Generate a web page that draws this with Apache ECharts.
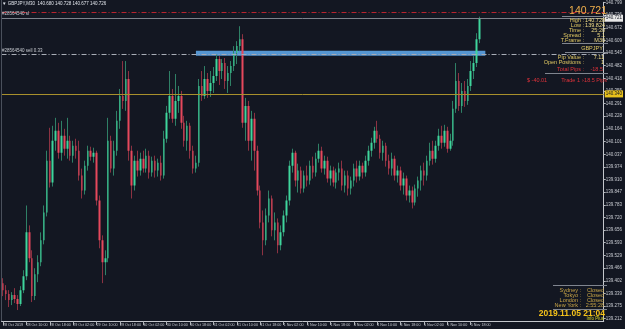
<!DOCTYPE html>
<html>
<head>
<meta charset="utf-8">
<script src="https://cdn.jsdelivr.net/npm/echarts@6/dist/echarts.min.js"></script>
<style>
  html, body { margin: 0; padding: 0; background: #131722; }
  #chart { width: 625px; height: 329px; }
</style>
</head>
<body>
<div id="chart"></div>
<script>
// GBPJPY hourly candles, 28 Oct 02:00 .. 5 Nov 21:00 — [open, close, low, high]
const candles = [
  [139.390, 139.355, 139.325, 139.415], [139.355, 139.335, 139.305, 139.380], [139.335, 139.305, 139.270, 139.355],
  [139.305, 139.330, 139.280, 139.345], [139.330, 139.310, 139.290, 139.365], [139.310, 139.285, 139.255, 139.330],
  [139.285, 139.355, 139.275, 139.375], [139.355, 139.425, 139.340, 139.455], [139.425, 139.645, 139.405, 139.780],
  [139.645, 139.515, 139.495, 139.680], [139.515, 139.325, 139.295, 139.555], [139.325, 139.435, 139.305, 139.465],
  [139.435, 139.495, 139.395, 139.530], [139.495, 139.605, 139.475, 139.645], [139.605, 139.745, 139.585, 139.780],
  [139.745, 140.005, 139.725, 140.055], [140.005, 139.895, 139.870, 140.170], [139.895, 140.105, 139.875, 140.180],
  [140.105, 140.155, 140.055, 140.220], [140.155, 140.045, 140.015, 140.195], [140.045, 140.130, 140.005, 140.205],
  [140.130, 140.065, 140.030, 140.165], [140.065, 140.105, 140.015, 140.220], [140.105, 140.030, 140.005, 140.130],
  [140.030, 140.080, 139.995, 140.105], [140.080, 140.055, 140.015, 140.115], [140.055, 139.930, 139.905, 140.105],
  [139.930, 139.855, 139.815, 139.965], [139.855, 139.980, 139.835, 140.005], [139.980, 140.055, 139.955, 140.080],
  [140.055, 140.025, 140.005, 140.075], [140.025, 140.045, 139.995, 140.070], [140.045, 139.805, 139.780, 140.055],
  [139.805, 139.605, 139.565, 139.830], [139.605, 139.495, 139.390, 139.630], [139.495, 139.515, 139.430, 139.555],
  [139.515, 140.105, 139.495, 140.220], [140.105, 139.965, 139.945, 140.130], [139.965, 140.055, 139.930, 140.105],
  [140.055, 140.205, 140.030, 140.255], [140.205, 140.330, 140.165, 140.365], [140.330, 140.305, 140.265, 140.505],
  [140.305, 140.415, 140.255, 140.505], [140.415, 140.055, 140.005, 140.455], [140.055, 139.880, 139.815, 140.080],
  [139.880, 140.005, 139.855, 140.030], [140.005, 139.955, 139.925, 140.055], [139.955, 140.015, 139.930, 140.045],
  [140.015, 139.965, 139.945, 140.055], [139.965, 140.030, 139.945, 140.065], [140.030, 139.945, 139.915, 140.055],
  [139.945, 140.005, 139.925, 140.025], [140.005, 139.955, 139.920, 140.030], [139.955, 139.995, 139.925, 140.015],
  [139.995, 139.930, 139.905, 140.030], [139.930, 140.115, 139.915, 140.155], [140.115, 140.245, 140.095, 140.280],
  [140.245, 140.330, 140.215, 140.455], [140.330, 140.215, 140.195, 140.365], [140.215, 140.305, 140.180, 140.440],
  [140.305, 140.330, 140.245, 140.380], [140.330, 140.195, 140.165, 140.355], [140.195, 140.105, 140.075, 140.230],
  [140.105, 140.180, 140.055, 140.205], [140.180, 140.055, 140.015, 140.195], [140.055, 139.965, 139.940, 140.080],
  [139.965, 139.995, 139.945, 140.030], [139.995, 140.380, 139.975, 140.415], [140.380, 140.330, 140.305, 140.455],
  [140.330, 140.415, 140.315, 140.480], [140.415, 140.355, 140.320, 140.445], [140.355, 140.395, 140.325, 140.455],
  [140.395, 140.430, 140.345, 140.475], [140.430, 140.515, 140.405, 140.540], [140.515, 140.455, 140.385, 140.530],
  [140.455, 140.495, 140.415, 140.515], [140.495, 140.405, 140.365, 140.520], [140.405, 140.445, 140.345, 140.480],
  [140.445, 140.480, 140.380, 140.505], [140.480, 140.545, 140.455, 140.580], [140.545, 140.580, 140.490, 140.605],
  [140.580, 140.615, 140.555, 140.680], [140.615, 140.195, 140.170, 140.640], [140.195, 140.280, 140.105, 140.320],
  [140.280, 140.105, 140.055, 140.305], [140.105, 140.215, 140.005, 140.255], [140.215, 140.055, 139.955, 140.245],
  [140.055, 139.855, 139.830, 140.080], [139.855, 139.695, 139.665, 139.880], [139.695, 139.605, 139.530, 139.755],
  [139.605, 139.730, 139.580, 139.765], [139.730, 139.815, 139.695, 139.855], [139.815, 139.655, 139.625, 139.830],
  [139.655, 139.695, 139.605, 139.745], [139.695, 139.580, 139.540, 139.715], [139.580, 139.645, 139.555, 139.680],
  [139.645, 139.730, 139.625, 139.755], [139.730, 139.805, 139.695, 139.830], [139.805, 139.980, 139.780, 140.005],
  [139.980, 140.045, 139.945, 140.065], [140.045, 139.905, 139.875, 140.055], [139.905, 139.955, 139.845, 139.990],
  [139.955, 139.865, 139.840, 139.975], [139.865, 139.930, 139.845, 139.955], [139.930, 139.905, 139.875, 139.980],
  [139.905, 139.980, 139.885, 140.005], [139.980, 139.945, 139.915, 140.025], [139.945, 140.015, 139.925, 140.045],
  [140.015, 140.055, 139.995, 140.090], [140.055, 139.965, 139.945, 140.075], [139.965, 140.005, 139.935, 140.030],
  [140.005, 139.915, 139.895, 140.025], [139.915, 139.955, 139.880, 139.980], [139.955, 139.895, 139.875, 139.975],
  [139.895, 139.945, 139.865, 139.965], [139.945, 139.965, 139.905, 139.995], [139.965, 139.880, 139.855, 140.005],
  [139.880, 139.930, 139.845, 139.955], [139.930, 139.865, 139.830, 139.955], [139.865, 139.905, 139.835, 139.925],
  [139.905, 139.965, 139.875, 139.990], [139.965, 139.925, 139.895, 140.005], [139.925, 139.980, 139.905, 140.005],
  [139.980, 139.945, 139.915, 139.995], [139.945, 140.005, 139.925, 140.030], [140.005, 140.055, 139.980, 140.080],
  [140.055, 140.095, 140.025, 140.120], [140.095, 140.155, 140.065, 140.175], [140.155, 140.115, 140.095, 140.205],
  [140.115, 140.045, 140.015, 140.135], [140.045, 140.080, 140.005, 140.105], [140.080, 140.005, 139.975, 140.095],
  [140.005, 139.965, 139.935, 140.035], [139.965, 140.015, 139.930, 140.045], [140.015, 139.930, 139.905, 140.030],
  [139.930, 139.955, 139.895, 139.980], [139.955, 139.880, 139.855, 139.975], [139.880, 139.915, 139.835, 139.945],
  [139.915, 139.830, 139.805, 139.930], [139.830, 139.855, 139.795, 139.880], [139.855, 139.795, 139.765, 139.875],
  [139.795, 139.865, 139.780, 139.885], [139.865, 139.905, 139.824, 139.925], [139.905, 139.955, 139.855, 139.980],
  [139.955, 139.930, 139.880, 139.995], [139.930, 140.005, 139.905, 140.030], [140.005, 140.055, 139.980, 140.095],
  [140.055, 140.015, 139.985, 140.105], [140.015, 140.080, 139.995, 140.105], [140.080, 140.130, 140.055, 140.165],
  [140.130, 140.095, 140.065, 140.180], [140.095, 140.155, 140.075, 140.185], [140.155, 140.065, 140.045, 140.175],
  [140.065, 140.105, 140.055, 140.140], [140.105, 140.265, 140.080, 140.305], [140.265, 140.405, 140.245, 140.495],
  [140.405, 140.280, 140.255, 140.445], [140.280, 140.355, 140.245, 140.395], [140.355, 140.305, 140.275, 140.405],
  [140.305, 140.380, 140.285, 140.415], [140.380, 140.455, 140.355, 140.505], [140.455, 140.495, 140.415, 140.530],
  [140.495, 140.615, 140.475, 140.645], [140.615, 140.721, 140.595, 140.728]
]

// time axis labels, one every 8 bars
const timeLabels = [
  '28 Oct 2019', '28 Oct 10:00', '28 Oct 18:00', '29 Oct 02:00', '29 Oct 10:00', '29 Oct 18:00',
  '30 Oct 02:00', '30 Oct 10:00', '30 Oct 18:00', '31 Oct 02:00', '31 Oct 10:00', '31 Oct 18:00',
  '1 Nov 02:00', '1 Nov 10:00', '1 Nov 18:00', '4 Nov 02:00', '4 Nov 10:00', '4 Nov 18:00',
  '5 Nov 02:00', '5 Nov 10:00', '5 Nov 18:00'
]

// price scale labels
const priceTicks = [
  140.799, 140.736, 140.672, 140.609, 140.545, 140.482, 140.418, 140.355, 140.291, 140.228,
  140.164, 140.101, 140.037, 139.974, 139.910, 139.847, 139.783, 139.720, 139.656, 139.593,
  139.529, 139.466, 139.402, 139.339, 139.275, 139.212
]

// horizontal levels
const bidPrice = 140.721
const slPrice = 140.751
const orderPrice = 140.536
const levelPrice = 140.340
const zoneTop = 140.557
const zoneBottom = 140.532
const zoneFrom = 66
const zoneTo = 165

// chart window holds empty space to the right of the last bar
const slotCount = 206
const slots = Array.from({ length: slotCount }, (_, i) => String(i))

const font = 'Liberation Sans, Arial, sans-serif'
const chart = echarts.init(document.getElementById('chart'))

function txt(x, y, text, fill, size, align, weight) {
  const a = align || 'left'
  return {
    type: 'text', z: 100,
    style: {
      x, y, text, fill,
      textAlign: a, align: a,
      textVerticalAlign: 'middle', verticalAlign: 'middle',
      font: `${weight || 'normal'} ${size || 5.5}px ${font}`,
    },
  }
}
function hline(x1, x2, y, color) {
  return { type: 'line', z: 100, shape: { x1, y1: y + 0.5, x2, y2: y + 0.5 }, style: { stroke: color || '#80858f', lineWidth: 1 } }
}

const labelCol = '#e0c862'
const valueCol = '#f0dc86'
const redCol = '#e0323a'
const sessCol = '#c9a546'

chart.setOption({
  backgroundColor: '#131722',
  animation: false,
  grid: { left: 1, right: 17, top: 1, bottom: 8 },
  xAxis: {
    type: 'category',
    data: slots,
    boundaryGap: true,
    axisLine: { show: true, lineStyle: { color: '#c4c7cc' } },
    axisTick: {
      show: true, length: 4, alignWithLabel: true,
      interval: (i) => i % 8 === 0 && i / 8 < timeLabels.length,
      lineStyle: { color: '#b0b4ba' },
    },
    axisLabel: {
      interval: (i) => i % 8 === 0 && i / 8 < timeLabels.length,
      formatter: (v, i) => timeLabels[i / 8] || '',
      color: '#c9ccd2', fontSize: 3.7, fontFamily: font, align: 'left', margin: 2,
    },
    splitLine: { show: false },
  },
  yAxis: {
    type: 'value',
    position: 'right',
    min: 139.2,
    max: 140.8,
    scale: true,
    axisLine: { show: true, lineStyle: { color: '#c4c7cc' } },
    axisTick: { show: true, length: 2, customValues: priceTicks, lineStyle: { color: '#b0b4ba' } },
    axisLabel: {
      customValues: priceTicks,
      formatter: (v) => v.toFixed(3),
      color: '#c9ccd2', fontSize: 4.5, fontFamily: font, margin: 2,
    },
    splitLine: { show: false },
  },
  series: [
    {
      // wicks
      type: 'candlestick',
      data: candles,
      barWidth: 1,
      itemStyle: { color: '#2f8066', color0: '#8c3242', borderColor: '#2f8066', borderColor0: '#8c3242', borderWidth: 1 },
      markArea: {
        silent: true,
        itemStyle: { color: '#5596d2' },
        data: [[{ xAxis: zoneFrom, yAxis: zoneTop }, { xAxis: zoneTo, yAxis: zoneBottom }]],
      },
      markLine: {
        silent: true,
        symbol: ['none', 'none'],
        data: [
          { yAxis: slPrice, lineStyle: { color: '#b8242f', type: [5, 2, 1, 2], width: 1 }, label: { show: false } },
          { yAxis: orderPrice, lineStyle: { color: '#a9adb6', type: [5, 2, 1, 2], width: 1 }, label: { show: false } },
          {
            yAxis: levelPrice, lineStyle: { color: '#a8902c', type: 'solid', width: 1 },
            label: { show: true, position: 'end', distance: 1, formatter: levelPrice.toFixed(3), backgroundColor: '#e8c21c', color: '#131722', fontSize: 4.5, fontFamily: font, padding: [1, 1] },
          },
          {
            yAxis: bidPrice, lineStyle: { color: '#7d828c', type: 'solid', width: 1 },
            label: { show: true, position: 'end', distance: 1, formatter: bidPrice.toFixed(3), backgroundColor: '#e8e8e8', color: '#131722', fontSize: 4.5, fontFamily: font, padding: [1, 1] },
          },
        ],
      },
    },
    {
      // bodies
      type: 'candlestick',
      data: candles,
      barWidth: 2,
      itemStyle: { color: '#3fd59c', color0: '#e6485c', borderColor: '#3fd59c', borderColor0: '#e6485c', borderWidth: 0 },
    },
  ],
  graphic: [
    { type: 'line', z: 100, shape: { x1: 1.5, y1: 0, x2: 1.5, y2: 321 }, style: { stroke: '#4a505c', lineWidth: 1 } },
    txt(2, 4, '\u25BC GBPJPY,M30  140.680 140.728 140.677 140.726', '#dfe3ea', 4.5),
    txt(2, 14, '#28564540 sl', '#c9ccd2', 4.5),
    txt(2, 51, '#28564540 sell 0.33', '#c9ccd2', 4.5),

    txt(607, 11, '140.721', '#f0b04c', 10.5, 'right'),
    hline(562, 608, 16),
    txt(584, 20, 'High :', labelCol, 5.5, 'right'), txt(605, 20, '140.728', valueCol, 5.5, 'right'),
    txt(584, 25, 'Low :', labelCol, 5.5, 'right'), txt(605, 25, '139.824', valueCol, 5.5, 'right'),
    txt(584, 30, 'Time :', labelCol, 5.5, 'right'), txt(605, 30, '25:20', valueCol, 5.5, 'right'),
    txt(584, 35, 'Spread :', labelCol, 5.5, 'right'), txt(605, 35, '5.1', valueCol, 5.5, 'right'),
    txt(584, 40, 'T.Frame :', labelCol, 5.5, 'right'), txt(605, 40, 'M30', valueCol, 5.5, 'right'),
    hline(562, 608, 43),
    txt(592, 48, 'GBPJPY', labelCol, 5.5, 'center'),
    hline(565, 608, 52),
    txt(584, 57, 'Pip Value :', labelCol, 5.5, 'right'), txt(604, 57, '7.11', valueCol, 5.5, 'right'),
    txt(584, 62, 'Open Positions :', labelCol, 5.5, 'right'), txt(604, 62, '1', valueCol, 5.5, 'right'),
    txt(584, 69, 'Total Pips :', redCol, 5.5, 'right'), txt(603, 69, '-18.5', redCol, 5.5, 'right'),
    hline(545, 608, 73),
    txt(527, 80, '$ -40.01', redCol, 5.5), txt(583, 80, 'Trade 1 :', redCol, 5.5, 'right'), txt(607, 80, '-18.5 Pips', redCol, 5.5, 'right'),

    hline(553, 607, 285),
    txt(581, 290, 'Sydney :', sessCol, 5.5, 'right'), txt(604, 290, 'Closed', sessCol, 5.5, 'right'),
    txt(581, 295, 'Tokyo :', sessCol, 5.5, 'right'), txt(604, 295, 'Closed', sessCol, 5.5, 'right'),
    txt(581, 300, 'London :', sessCol, 5.5, 'right'), txt(604, 300, 'Closed', sessCol, 5.5, 'right'),
    txt(581, 305, 'New York :', sessCol, 5.5, 'right'), txt(604, 305, '2:55:28', sessCol, 5.5, 'right'),
    hline(553, 607, 309),
    txt(605, 314, '2019.11.05 21:04', '#f5c21a', 8.5, 'right', 'bold'),
    txt(604, 319, 'Info Plus', '#d9d623', 4.5, 'right'),
  ],
})
</script>
</body>
</html>
